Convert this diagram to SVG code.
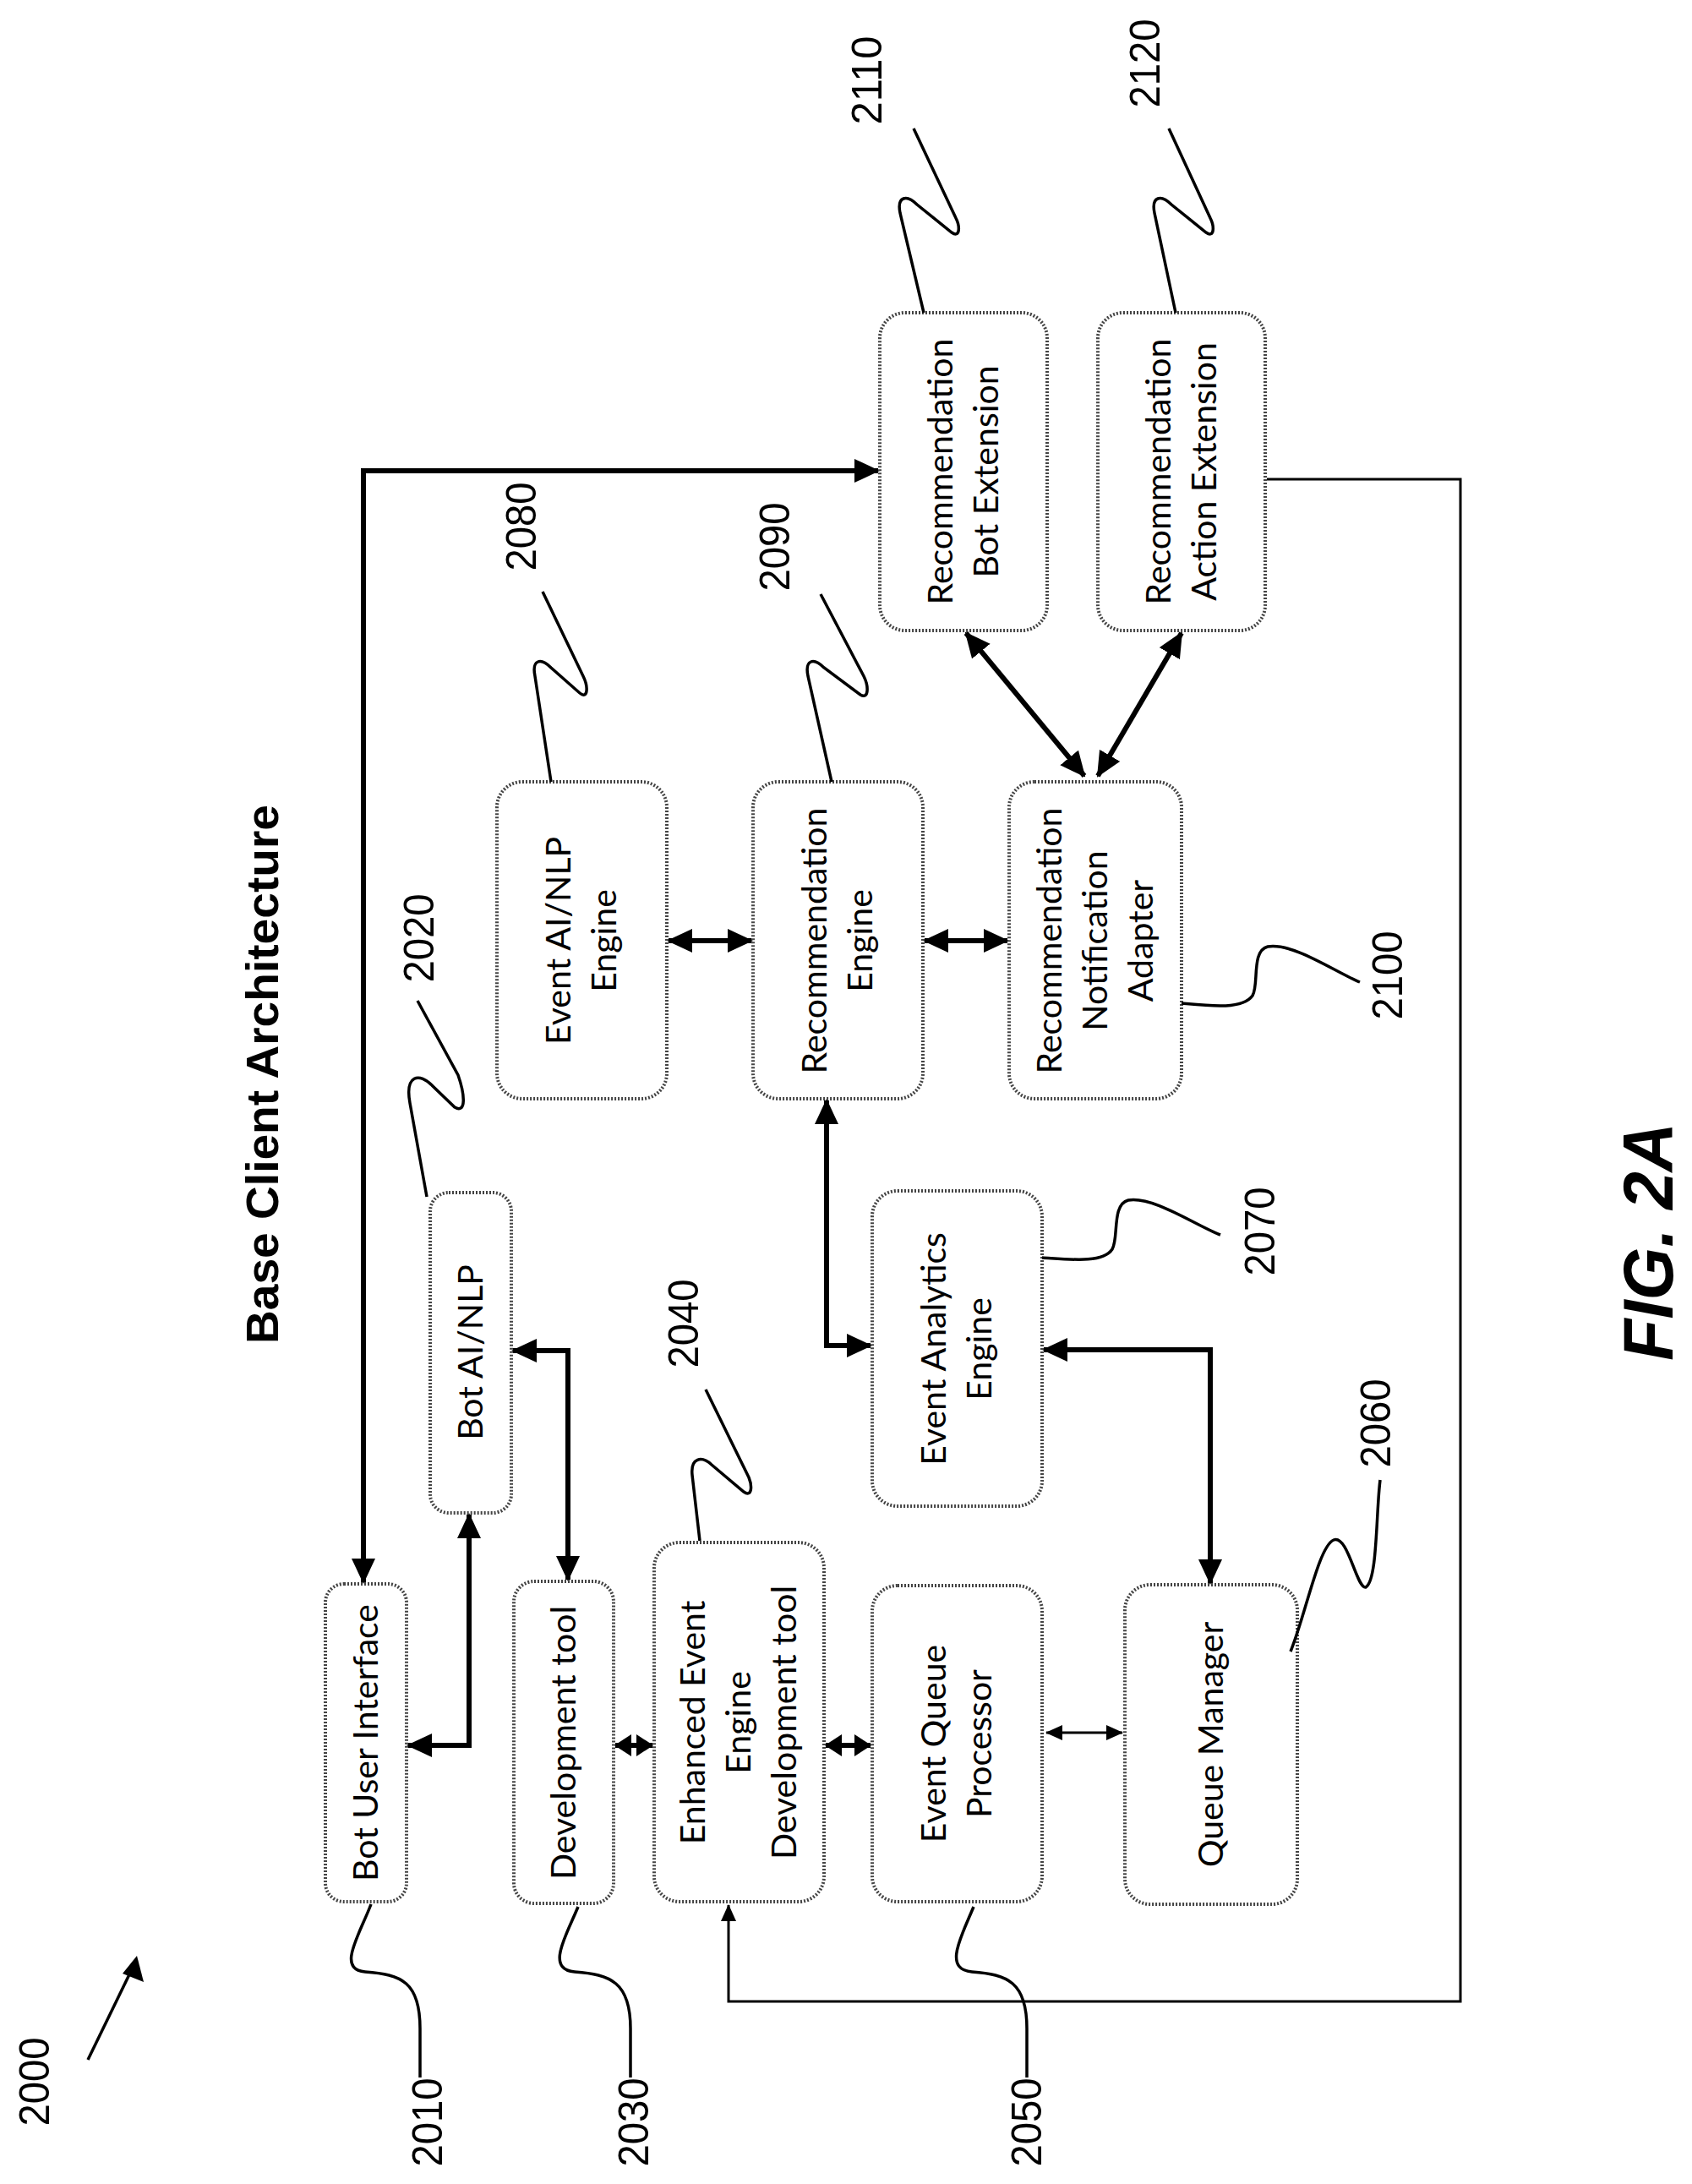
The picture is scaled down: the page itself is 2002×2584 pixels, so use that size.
<svg xmlns="http://www.w3.org/2000/svg" width="2002" height="2584" viewBox="0 0 2002 2584">
<style>
.box{fill:#fff;stroke:#444;stroke-width:4;stroke-dasharray:2 2}
.t{font-family:Lato,"Open Sans",sans-serif;font-size:41px;fill:#000;text-anchor:middle}
.n{font-family:"Liberation Sans",Arial,sans-serif;font-size:50px;fill:#000;text-anchor:middle;dominant-baseline:central}
.c{fill:none;stroke:#000;stroke-width:6}
.thin{fill:none;stroke:#000;stroke-width:3}
.lead{fill:none;stroke:#000;stroke-width:3.5}
</style>
<defs>
<marker id="ah" markerUnits="userSpaceOnUse" markerWidth="30" markerHeight="28" refX="28" refY="14" orient="auto-start-reverse" viewBox="0 0 30 28"><path d="M0,0 L30,14 L0,28 Z" fill="#000"/></marker>
<marker id="am" markerUnits="userSpaceOnUse" markerWidth="20" markerHeight="26" refX="19" refY="13" orient="auto-start-reverse" viewBox="0 0 20 26"><path d="M0,0 L20,13 L0,26 Z" fill="#000"/></marker>
<marker id="as" markerUnits="userSpaceOnUse" markerWidth="20" markerHeight="18" refX="19" refY="9" orient="auto-start-reverse" viewBox="0 0 20 18"><path d="M0,0 L20,9 L0,18 Z" fill="#000"/></marker>
</defs>
<rect width="2002" height="2584" fill="#fff"/>
<text transform="translate(310,1271) rotate(-90)" font-family="'Liberation Sans',Arial,sans-serif" font-weight="bold" font-size="54" text-anchor="middle" dominant-baseline="central" textLength="638" lengthAdjust="spacingAndGlyphs">Base Client Architecture</text>
<text transform="translate(1950,1469) rotate(-90)" font-family="'Liberation Sans',Arial,sans-serif" font-weight="bold" font-style="italic" font-size="84" text-anchor="middle" dominant-baseline="central" textLength="282" lengthAdjust="spacingAndGlyphs">FIG. 2A</text>

<g id="connectors">
<path class="c" d="M430,1872 V557 H1039" marker-start="url(#ah)" marker-end="url(#ah)"/>
<path class="c" d="M483,2065 H555 V1792" marker-start="url(#ah)" marker-end="url(#ah)"/>
<path class="c" d="M607,1598 H672 V1869" marker-start="url(#ah)" marker-end="url(#ah)"/>
<path class="c" d="M728,2065 H772" marker-start="url(#am)" marker-end="url(#am)"/>
<path class="c" d="M977,2065 H1030" marker-start="url(#am)" marker-end="url(#am)"/>
<path class="thin" d="M1238,2050 H1328" marker-start="url(#as)" marker-end="url(#as)"/>
<path class="c" d="M978,1302 V1592 H1030" marker-start="url(#ah)" marker-end="url(#ah)"/>
<path class="c" d="M1235,1597 H1432 V1873" marker-start="url(#ah)" marker-end="url(#ah)"/>
<path class="c" d="M791,1113 H889" marker-start="url(#ah)" marker-end="url(#ah)"/>
<path class="c" d="M1094,1113 H1192" marker-start="url(#ah)" marker-end="url(#ah)"/>
<path class="c" d="M1143,749 L1283,918" marker-start="url(#ah)" marker-end="url(#ah)"/>
<path class="c" d="M1398,749 L1299,918" marker-start="url(#ah)" marker-end="url(#ah)"/>
<path class="thin" d="M1499,567 H1728 V2368 H862 V2254" marker-end="url(#as)"/>
</g>

<g id="n2010"><rect class="box" x="385" y="1874" width="96" height="376" rx="22"/><text class="t" transform="translate(433,2062) rotate(-90)" dy="14">Bot User Interface</text></g>
<g id="n2020"><rect class="box" x="509" y="1411" width="96" height="379" rx="22"/><text class="t" transform="translate(557,1600) rotate(-90)" dy="14">Bot AI/NLP</text></g>
<g id="n2030"><rect class="box" x="608" y="1871" width="118" height="381" rx="24"/><text class="t" transform="translate(667,2062) rotate(-90)" dy="14">Development tool</text></g>
<g id="n2040"><rect class="box" x="774" y="1825" width="201" height="425" rx="30"/><text class="t" transform="translate(874,2038) rotate(-90)"><tspan x="0" dy="-40">Enhanced Event</tspan><tspan x="0" dy="54">Engine</tspan><tspan x="0" dy="54">Development tool</tspan></text></g>
<g id="n2050"><rect class="box" x="1032" y="1876" width="201" height="374" rx="30"/><text class="t" transform="translate(1132,2063) rotate(-90)"><tspan x="0" dy="-13">Event Queue</tspan><tspan x="0" dy="54">Processor</tspan></text></g>
<g id="n2060"><rect class="box" x="1331" y="1875" width="204" height="378" rx="30"/><text class="t" transform="translate(1433,2064) rotate(-90)" dy="14">Queue Manager</text></g>
<g id="n2070"><rect class="box" x="1032" y="1409" width="201" height="373" rx="30"/><text class="t" transform="translate(1132,1596) rotate(-90)"><tspan x="0" dy="-13">Event Analytics</tspan><tspan x="0" dy="54">Engine</tspan></text></g>
<g id="n2080"><rect class="box" x="588" y="925" width="201" height="375" rx="30"/><text class="t" transform="translate(688,1113) rotate(-90)"><tspan x="0" dy="-13">Event AI/NLP</tspan><tspan x="0" dy="54">Engine</tspan></text></g>
<g id="n2090"><rect class="box" x="891" y="925" width="201" height="375" rx="30"/><text class="t" transform="translate(991,1113) rotate(-90)"><tspan x="0" dy="-13">Recommendation</tspan><tspan x="0" dy="54">Engine</tspan></text></g>
<g id="n2100"><rect class="box" x="1194" y="925" width="204" height="375" rx="30"/><text class="t" transform="translate(1296,1113) rotate(-90)"><tspan x="0" dy="-40">Recommendation</tspan><tspan x="0" dy="54">Notification</tspan><tspan x="0" dy="54">Adapter</tspan></text></g>
<g id="n2110"><rect class="box" x="1041" y="370" width="198" height="376" rx="30"/><text class="t" transform="translate(1140,558) rotate(-90)"><tspan x="0" dy="-13">Recommendation</tspan><tspan x="0" dy="54">Bot Extension</tspan></text></g>
<g id="n2120"><rect class="box" x="1299" y="370" width="198" height="376" rx="30"/><text class="t" transform="translate(1398,558) rotate(-90)"><tspan x="0" dy="-13">Recommendation</tspan><tspan x="0" dy="54">Action Extension</tspan></text></g>

<g id="leaders">
<path class="lead" d="M439,2253 C425,2290 398,2330 432,2333 C475,2336 497,2345 497,2400 L497,2458"/>
<path class="lead" d="M684,2256 C670,2290 645,2330 680,2333 C722,2336 746,2345 746,2400 L746,2458"/>
<path class="lead" d="M1152,2256 C1138,2290 1115,2330 1150,2333 C1192,2336 1215,2345 1215,2400 L1215,2458"/>
<path class="lead" d="M505,1416 L485,1305 C479,1272 496,1268 512,1285 L538,1310 C552,1318 550,1295 542,1272 L494,1184"/>
<path class="lead" d="M652,925 L633,800 C629,780 640,778 652,790 L686,820 C696,828 696,812 690,800 L642,700"/>
<path class="lead" d="M984,925 L956,800 C952,780 963,778 975,790 L1018,822 C1028,828 1028,812 1022,800 L971,703"/>
<path class="lead" d="M828,1823 L819,1745 C817,1725 830,1722 842,1733 L880,1765 C890,1772 890,1758 886,1748 L835,1644"/>
<path class="lead" d="M1093,370 L1065,252 C1061,232 1073,230 1085,242 L1126,275 C1136,282 1136,268 1131,258 L1081,152"/>
<path class="lead" d="M1391,370 L1366,252 C1362,232 1374,230 1386,242 L1427,275 C1437,282 1437,268 1432,258 L1383,152"/>
<path class="lead" d="M1398,1187 C1430,1190 1470,1195 1482,1178 C1490,1165 1480,1125 1500,1120 C1530,1115 1580,1150 1609,1162"/>
<path class="lead" d="M1233,1488 C1265,1490 1305,1495 1316,1478 C1324,1465 1315,1425 1335,1420 C1365,1415 1415,1450 1444,1461"/>
<path class="lead" d="M1527,1954 C1545,1910 1560,1830 1578,1822 C1595,1815 1605,1880 1616,1878 C1630,1870 1628,1790 1633,1751"/>
<path class="lead" d="M104,2437 L156,2330"/>
<path d="M145,2335 L162,2314 L170,2345 Z" fill="#000"/>
</g>

<g id="labels">
<text class="n" transform="translate(41,2463) rotate(-90)" textLength="105" lengthAdjust="spacingAndGlyphs">2000</text>
<text class="n" transform="translate(506,2511) rotate(-90)" textLength="105" lengthAdjust="spacingAndGlyphs">2010</text>
<text class="n" transform="translate(750,2511) rotate(-90)" textLength="105" lengthAdjust="spacingAndGlyphs">2030</text>
<text class="n" transform="translate(1215,2511) rotate(-90)" textLength="105" lengthAdjust="spacingAndGlyphs">2050</text>
<text class="n" transform="translate(496,1110) rotate(-90)" textLength="105" lengthAdjust="spacingAndGlyphs">2020</text>
<text class="n" transform="translate(809,1566) rotate(-90)" textLength="105" lengthAdjust="spacingAndGlyphs">2040</text>
<text class="n" transform="translate(617,623) rotate(-90)" textLength="105" lengthAdjust="spacingAndGlyphs">2080</text>
<text class="n" transform="translate(917,647) rotate(-90)" textLength="105" lengthAdjust="spacingAndGlyphs">2090</text>
<text class="n" transform="translate(1026,95) rotate(-90)" textLength="105" lengthAdjust="spacingAndGlyphs">2110</text>
<text class="n" transform="translate(1355,75) rotate(-90)" textLength="105" lengthAdjust="spacingAndGlyphs">2120</text>
<text class="n" transform="translate(1642,1154) rotate(-90)" textLength="105" lengthAdjust="spacingAndGlyphs">2100</text>
<text class="n" transform="translate(1491,1457) rotate(-90)" textLength="105" lengthAdjust="spacingAndGlyphs">2070</text>
<text class="n" transform="translate(1628,1684) rotate(-90)" textLength="105" lengthAdjust="spacingAndGlyphs">2060</text>
</g>
</svg>
